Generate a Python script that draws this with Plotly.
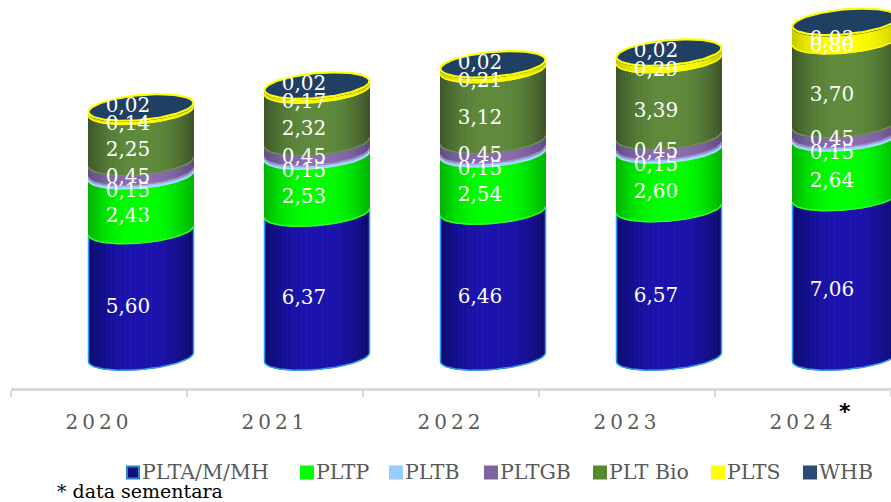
import numpy as np
import plotly.graph_objects as go

# ---------- data ----------
years = ["2020", "2021", "2022", "2023", "2024"]
PLTA = [5.60, 6.37, 6.46, 6.57, 7.06]
PLTP = [2.43, 2.53, 2.54, 2.60, 2.64]
PLTB = [0.15, 0.15, 0.15, 0.15, 0.15]
PLTGB = [0.45, 0.45, 0.45, 0.45, 0.45]
BIO = [2.25, 2.32, 3.12, 3.39, 3.70]
PLTS = [0.14, 0.17, 0.21, 0.29, 0.80]
WHB = [0.02, 0.02, 0.02, 0.02, 0.03]
series_names = ["PLTA/M/MH", "PLTP", "PLTB", "PLTGB", "PLT Bio", "PLTS", "WHB"]
series_vals = [PLTA, PLTP, PLTB, PLTGB, BIO, PLTS, WHB]
dark = ["#0A0A66", "#00B000", "#7FB0E0", "#5F4A80", "#3C5228", "#C8C800", "#1A3557"]
bright = ["#1C13AE", "#00FF00", "#9CCBFF", "#8A6DB0", "#5F8A3C", "#FFFF00", "#1F3F66"]
edge = ["#2E9BFF", "#2EFF2E", "#B5DAFF", "#9D86BD", "#6E8F55", "#FFFF00", "#1F3F66"]
swatch = ["#12107E", "#00FF00", "#99CCFF", "#8064A2", "#558B2F", "#FFFF00", "#2A4B75"]
legend_x = [126, 300, 389, 484, 593, 711, 803]

# ---------- page geometry (pixels) ----------
W, H = 891, 502
AX_L, AX_Y = 11, 388
BASE_Y = 357
PX_X = 176.0
PX_Y = 22.6
HALF_W, HALF_H, TILT = 52.5, 12.5, 4.5
SHIFT = 42 / PX_X
N = 32
serif = "DejaVu Serif"


def hex_rgb(c):
    return np.array([int(c[i:i + 2], 16) for i in (1, 3, 5)], float)


def mix(c0, c1, t):
    v = hex_rgb(c0) * (1 - t) + hex_rgb(c1) * t
    return "rgb(%d,%d,%d)" % tuple(v.round())


def front(u, value):
    """front arc of a tilted ellipse, u in [-1,1] across the cylinder"""
    dy = -HALF_H * np.sqrt(np.clip(1 - u * u, 0, 1)) + TILT * u
    return value + dy / PX_Y


def back(u, value):
    dy = HALF_H * np.sqrt(np.clip(1 - u * u, 0, 1)) + TILT * u
    return value + dy / PX_Y


fig = go.Figure()
tops = np.cumsum(np.array(series_vals), axis=0)
bottoms = tops - np.array(series_vals)
edges = np.sin(np.linspace(-np.pi / 2, np.pi / 2, N + 1))

for s in range(len(series_vals)):
    for k in range(N):
        u0, u1 = edges[k], edges[k + 1]
        um = (u0 + u1) / 2
        xs, ys = [], []
        for i in range(len(years)):
            xc = i + SHIFT
            us = np.linspace(u0, u1, 4)
            px = xc + us * HALF_W / PX_X
            xs += list(px) + list(px[::-1]) + [px[0], None]
            ys += list(front(us, bottoms[s][i])) + list(front(us[::-1], tops[s][i])) + [front(us[:1], bottoms[s][i])[0], None]
        col = mix(dark[s], bright[s], 1 - abs(um) ** 2.4)
        fig.add_trace(go.Scatter(x=xs, y=ys, mode="lines", fill="toself", fillcolor=col,
                                 line=dict(color=col, width=0.8), hoverinfo="skip", showlegend=False))
    # lower rim of every segment
    xs, ys = [], []
    ue = np.sin(np.linspace(-np.pi / 2, np.pi / 2, 60))
    for i in range(len(years)):
        xc = i + SHIFT
        xs += list(xc + ue * HALF_W / PX_X) + [None]
        ys += list(front(ue, bottoms[s][i])) + [None]
        if s == 0:
            xs += [xc - HALF_W / PX_X, xc - HALF_W / PX_X, None, xc + HALF_W / PX_X, xc + HALF_W / PX_X, None]
            ys += [front(np.array([-1.0]), bottoms[s][i])[0], front(np.array([-1.0]), tops[s][i])[0], None,
                   front(np.array([1.0]), bottoms[s][i])[0], front(np.array([1.0]), tops[s][i])[0], None]
    fig.add_trace(go.Scatter(x=xs, y=ys, mode="lines", line=dict(color=edge[s], width=1.5),
                             hoverinfo="skip", showlegend=False))

# top caps
ue = np.sin(np.linspace(-np.pi / 2, np.pi / 2, 60))
for i in range(len(years)):
    xc = i + SHIFT
    xs = list(xc + ue * HALF_W / PX_X) + list(xc + ue[::-1] * HALF_W / PX_X)
    ys = list(front(ue, tops[-1][i])) + list(back(ue[::-1], tops[-1][i]))
    fig.add_trace(go.Scatter(x=xs + xs[:1], y=ys + ys[:1], mode="lines", fill="toself", fillcolor="#1F3F63",
                             line=dict(color="#FFFF00", width=2.2), hoverinfo="skip", showlegend=False))

# value labels
label_offset = [14, 14, 18, 11, 14, 15, -1]
for s in range(len(series_vals)):
    lx, ly, lt = [], [], []
    for i in range(len(years)):
        mid = (bottoms[s][i] + tops[s][i]) / 2
        py = BASE_Y - mid * PX_Y + label_offset[s]
        py = max(py, 40)
        lx.append(i + SHIFT - 13 / PX_X)
        ly.append((BASE_Y - py) / PX_Y)
        lt.append(f"{series_vals[s][i]:.2f}".replace(".", ","))
    fig.add_trace(go.Scatter(x=lx, y=ly, mode="text", text=lt, textposition="middle center",
                             textfont=dict(family=serif, size=20, color="white"),
                             hoverinfo="skip", showlegend=False, cliponaxis=False))

# legend, footnote, star
shapes, annos = [], []
px2x = lambda p: (p - AX_L) / (W - AX_L)
px2y = lambda p: (AX_Y - p) / AX_Y
for name, col, lx in zip(series_names, swatch, legend_x):
    line_col = "#2E80D0" if name == "PLTA/M/MH" else col
    shapes.append(dict(type="rect", xref="paper", yref="paper", x0=px2x(lx + 1), x1=px2x(lx + 13),
                       y0=px2y(478.5), y1=px2y(466.5), fillcolor=col, line=dict(color=line_col, width=2)))
    annos.append(dict(xref="paper", yref="paper", x=px2x(lx + 14), y=px2y(472), text=name, showarrow=False,
                      xanchor="left", yanchor="middle", font=dict(family=serif, size=20.5, color="#595959")))
annos.append(dict(xref="paper", yref="paper", x=px2x(55), y=px2y(491), text="* data sementara", showarrow=False,
                  xanchor="left", yanchor="middle", font=dict(family=serif, size=19, color="black")))
annos.append(dict(xref="paper", yref="paper", x=px2x(845), y=px2y(411), text="<b>*</b>", showarrow=False,
                  xanchor="center", yanchor="middle", font=dict(family="DejaVu Sans", size=22, color="black")))

fig.update_layout(
    width=W, height=H, margin=dict(l=AX_L, r=0, t=0, b=H - AX_Y), paper_bgcolor="white", plot_bgcolor="white",
    showlegend=False, shapes=shapes, annotations=annos,
    xaxis=dict(range=[-0.5, 4.5], tickmode="array", tickvals=list(range(len(years))), ticktext=years,
               ticks="", showgrid=False, zeroline=False, showline=True, linecolor="#D9D9D9", linewidth=2.5,
               tickfont=dict(family=serif, size=20, color="#595959"), ticklabelstandoff=14,
               minor=dict(tickmode="array", tickvals=[-0.5, 0.5, 1.5, 2.5, 3.5, 4.5], ticks="outside",
                          ticklen=6, tickcolor="#D9D9D9", tickwidth=1.5, showgrid=False)),
    yaxis=dict(range=[(BASE_Y - AX_Y) / PX_Y, BASE_Y / PX_Y], visible=False, showgrid=False, zeroline=False),
)

post = """
document.body.style.margin='0';
document.querySelectorAll('.xtick text').forEach(function(t){t.style.letterSpacing='4px';});
"""
fig.write_html("out.html", post_script=post, config={"displayModeBar": False})
